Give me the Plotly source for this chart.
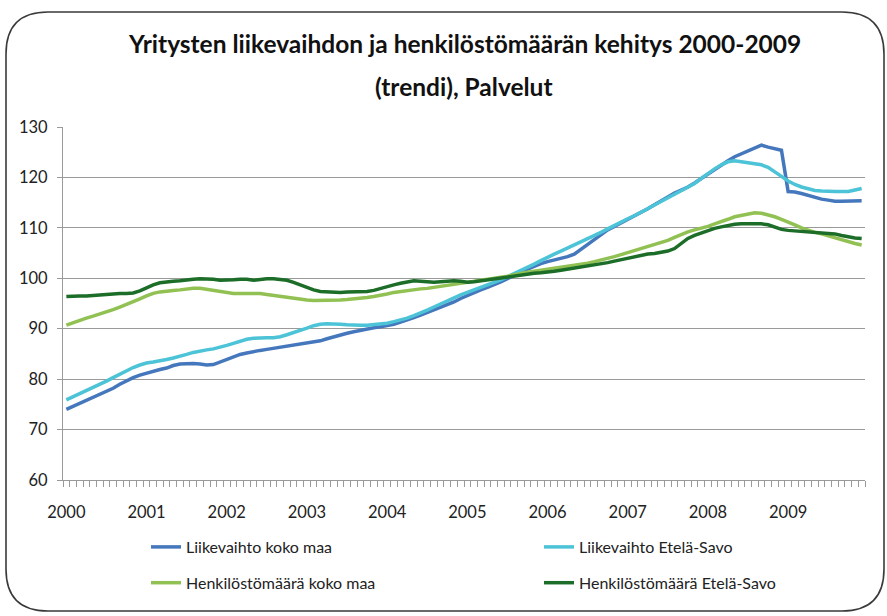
import plotly.graph_objects as go

# --- data -------------------------------------------------------------
years = ["2000", "2001", "2002", "2003", "2004", "2005", "2006", "2007", "2008", "2009"]
months = [f"{y}M{m:02d}" for y in years for m in range(1, 13)]

liikevaihto_koko_maa = [
    74.0, 74.6, 75.2, 75.8, 76.3, 76.9, 77.5, 78.2, 79.0, 79.7, 80.3, 80.8,
    81.2, 81.6, 81.9, 82.2, 82.7, 83.0, 83.1, 83.1, 83.0, 82.8, 82.9, 83.4,
    84.0, 84.5, 84.9, 85.2, 85.5, 85.7, 85.9, 86.1, 86.3, 86.5, 86.7, 86.9,
    87.1, 87.3, 87.6, 88.0, 88.4, 88.8, 89.1, 89.4, 89.7, 90.0, 90.2, 90.4,
    90.6, 90.9, 91.3, 91.7, 92.2, 92.7, 93.2, 93.7, 94.2, 94.7, 95.3, 96.0,
    96.6, 97.2, 97.7, 98.2, 98.7, 99.3, 99.9, 100.6, 101.2, 101.8, 102.4, 102.9,
    103.3, 103.6, 103.9, 104.3, 104.8, 105.8, 106.8, 107.8, 108.8, 109.6, 110.3, 111.0,
    111.6, 112.3, 113.0, 113.8, 114.6, 115.4, 116.2, 116.9, 117.5, 118.1, 118.9, 119.8,
    120.8, 121.7, 122.5, 123.3, 124.1, 124.7, 125.3, 125.8, 126.4, 126.0, 125.7, 125.4,
    117.2, 117.1, 116.8, 116.4, 116.0, 115.7, 115.5, 115.3, 115.3, 115.3, 115.3, 115.4,
]

liikevaihto_etela_savo = [
    75.9, 76.5, 77.1, 77.7, 78.3, 78.9, 79.6, 80.3, 81.0, 81.7, 82.3, 82.8,
    83.2, 83.4, 83.6, 83.9, 84.2, 84.5, 84.9, 85.3, 85.6, 85.8, 86.0, 86.3,
    86.7, 87.1, 87.5, 87.9, 88.1, 88.2, 88.2, 88.2, 88.4, 88.8, 89.2, 89.6,
    90.1, 90.6, 90.9, 91.0, 91.0, 90.9, 90.8, 90.7, 90.7, 90.7, 90.8, 90.9,
    91.1, 91.4, 91.7, 92.1, 92.6, 93.1, 93.7, 94.3, 94.9, 95.6, 96.2, 96.7,
    97.2, 97.7, 98.1, 98.6, 99.1, 99.7, 100.3, 100.9, 101.5, 102.1, 102.8, 103.5,
    104.2, 104.8, 105.4, 106.0, 106.6, 107.2, 107.8, 108.4, 109.1, 109.8, 110.5, 111.2,
    111.8, 112.4, 113.1, 113.8, 114.5, 115.3, 116.0, 116.7, 117.3, 118.0, 118.8, 119.8,
    120.8, 121.7, 122.5, 123.1, 123.3, 123.1, 122.8, 122.6, 122.5, 122.0, 121.2, 120.2,
    119.3, 118.6, 118.1, 117.7, 117.4, 117.3, 117.2, 117.2, 117.2, 117.2, 117.5, 117.8,
]

henkilosto_koko_maa = [
    90.7, 91.2, 91.6, 92.1, 92.5, 92.9, 93.3, 93.8, 94.3, 94.8, 95.3, 95.9,
    96.5, 97.0, 97.3, 97.5, 97.6, 97.7, 97.9, 98.0, 98.0, 97.8, 97.6, 97.4,
    97.2, 97.0, 97.0, 97.0, 97.0, 97.0, 96.8, 96.6, 96.5, 96.3, 96.1, 95.9,
    95.7, 95.6, 95.6, 95.6, 95.7, 95.7, 95.8, 95.9, 96.0, 96.2, 96.4, 96.6,
    96.9, 97.2, 97.4, 97.6, 97.8, 97.9, 98.0, 98.2, 98.4, 98.6, 98.8, 99.0,
    99.1, 99.3, 99.5, 99.7, 99.9, 100.1, 100.4, 100.7, 101.0, 101.2, 101.4, 101.6,
    101.8, 101.9, 102.1, 102.4, 102.6, 102.8, 103.0, 103.3, 103.6, 103.9, 104.3, 104.7,
    105.1, 105.4, 105.8, 106.2, 106.6, 107.0, 107.5, 108.1, 108.7, 109.2, 109.6, 109.9,
    110.3, 110.8, 111.2, 111.7, 112.2, 112.5, 112.8, 113.0, 112.9, 112.6, 112.2, 111.7,
    111.2, 110.6, 110.0, 109.5, 109.1, 108.8, 108.4, 108.0, 107.6, 107.2, 106.9, 106.6,
]

henkilosto_etela_savo = [
    96.4, 96.5, 96.5, 96.5, 96.6, 96.7, 96.9, 96.9, 97.0, 97.0, 97.1, 97.5,
    98.1, 98.7, 99.1, 99.3, 99.4, 99.5, 99.7, 99.8, 99.9, 99.9, 99.8, 99.6,
    99.6, 99.7, 99.8, 99.8, 99.6, 99.8, 99.9, 99.9, 99.8, 99.6, 99.2, 98.7,
    98.1, 97.7, 97.4, 97.3, 97.2, 97.2, 97.3, 97.3, 97.4, 97.4, 97.6, 98.0,
    98.4, 98.7, 99.0, 99.3, 99.5, 99.4, 99.3, 99.2, 99.3, 99.4, 99.5, 99.4,
    99.2, 99.3, 99.5, 99.7, 99.9, 100.1, 100.3, 100.5, 100.7, 100.9, 101.0, 101.1,
    101.2, 101.4, 101.6, 101.8, 102.0, 102.2, 102.4, 102.6, 102.8, 103.1, 103.4, 103.7,
    104.0, 104.3, 104.6, 104.8, 104.9, 105.1, 105.4, 105.9, 106.8, 107.9, 108.5, 109.0,
    109.5, 109.9, 110.2, 110.5, 110.7, 110.8, 110.8, 110.8, 110.8, 110.6, 110.1, 109.7,
    109.5, 109.4, 109.2, 109.1, 109.0, 109.0, 108.9, 108.8, 108.5, 108.2, 108.0, 107.9,
]

series = [
    ("Liikevaihto koko maa", liikevaihto_koko_maa, "#4577BD", "legend"),
    ("Liikevaihto Etelä-Savo", liikevaihto_etela_savo, "#4CC3D6", "legend2"),
    ("Henkilöstömäärä koko maa", henkilosto_koko_maa, "#92C153", "legend"),
    ("Henkilöstömäärä Etelä-Savo", henkilosto_etela_savo, "#1B6D28", "legend2"),
]

title_lines = [
    "Yritysten liikevaihdon ja henkilöstömäärän kehitys 2000-2009",
    "(trendi), Palvelut",
]

# --- layout geometry (pixels) ----------------------------------------
W, H = 887, 616
L, R, T, B = 63, 865, 127, 480          # plot area edges
FONT = "Lato, 'Open Sans', sans-serif"

def px(xp):
    return (xp - L) / (R - L)

def py(yp):
    return (B - yp) / (B - T)

idx = list(range(len(months)))

fig = go.Figure()
for i, (name, vals, color, leg) in enumerate(series):
    fig.add_trace(go.Scatter(
        x=idx, y=vals, name=name, mode="lines",
        customdata=months,
        hovertemplate="%{customdata}: %{y}<extra>" + name + "</extra>",
        line=dict(color=color, width=3.5),
        legend=leg, legendgroup=f"g{i}",
    ))

# rounded frame around the whole chart
fl, fr, ft, fb, rr = 6, 884, 12, 611, 42
frame = (
    f"M {px(fl)},{py(ft + rr)} Q {px(fl)},{py(ft)} {px(fl + rr)},{py(ft)} "
    f"L {px(fr - rr)},{py(ft)} Q {px(fr)},{py(ft)} {px(fr)},{py(ft + rr)} "
    f"L {px(fr)},{py(fb - rr)} Q {px(fr)},{py(fb)} {px(fr - rr)},{py(fb)} "
    f"L {px(fl + rr)},{py(fb)} Q {px(fl)},{py(fb)} {px(fl)},{py(fb - rr)} Z"
)
fig.add_shape(type="path", path=frame, xref="paper", yref="paper",
              line=dict(color="#3a3a3a", width=1.6), layer="below")

# two-line chart title
for text, yc in zip(title_lines, (44, 86)):
    fig.add_annotation(
        text=f"<b>{text}</b>", x=0.5, y=py(yc), xref="paper", yref="paper",
        xanchor="center", yanchor="middle", showarrow=False,
        font=dict(family=FONT, size=24.5, color="#111111"),
    )

fig.update_layout(
    width=W, height=H,
    margin=dict(l=L, r=W - R, t=T, b=H - B),
    paper_bgcolor="white", plot_bgcolor="white",
    font=dict(family=FONT, size=16, color="#222222"),
    xaxis=dict(
        range=[-0.5, len(months) - 0.5],
        tickmode="array",
        tickvals=[12 * k for k in range(len(years))],
        ticktext=years,
        ticks="outside", ticklen=17, tickcolor="rgba(0,0,0,0)",
        minor=dict(ticks="outside", tick0=-0.5, dtick=1, ticklen=6,
                   tickcolor="#9a9a9a", tickwidth=1, showgrid=False),
        showline=True, linecolor="#9a9a9a", linewidth=1,
        showgrid=False, zeroline=False,
        tickfont=dict(size=16.5, color="#222222"),
    ),
    yaxis=dict(
        range=[60, 130], dtick=10, tick0=60,
        ticks="outside", ticklen=5, tickcolor="#9a9a9a",
        showline=True, linecolor="#9a9a9a", linewidth=1,
        showgrid=True, gridcolor="#9a9a9a", gridwidth=1,
        zeroline=False,
        ticklabelstandoff=6,
        tickfont=dict(size=16.5, color="#222222"),
    ),
    legend=dict(
        x=px(146), y=py(530), xanchor="left", yanchor="top",
        orientation="v", tracegroupgap=12,
        font=dict(size=16, color="#222222"), bgcolor="rgba(0,0,0,0)",
    ),
    legend2=dict(
        x=px(539), y=py(530), xanchor="left", yanchor="top",
        orientation="v", tracegroupgap=12,
        font=dict(size=16, color="#222222"), bgcolor="rgba(0,0,0,0)",
    ),
    showlegend=True,
)

fig.write_html("out.html")
